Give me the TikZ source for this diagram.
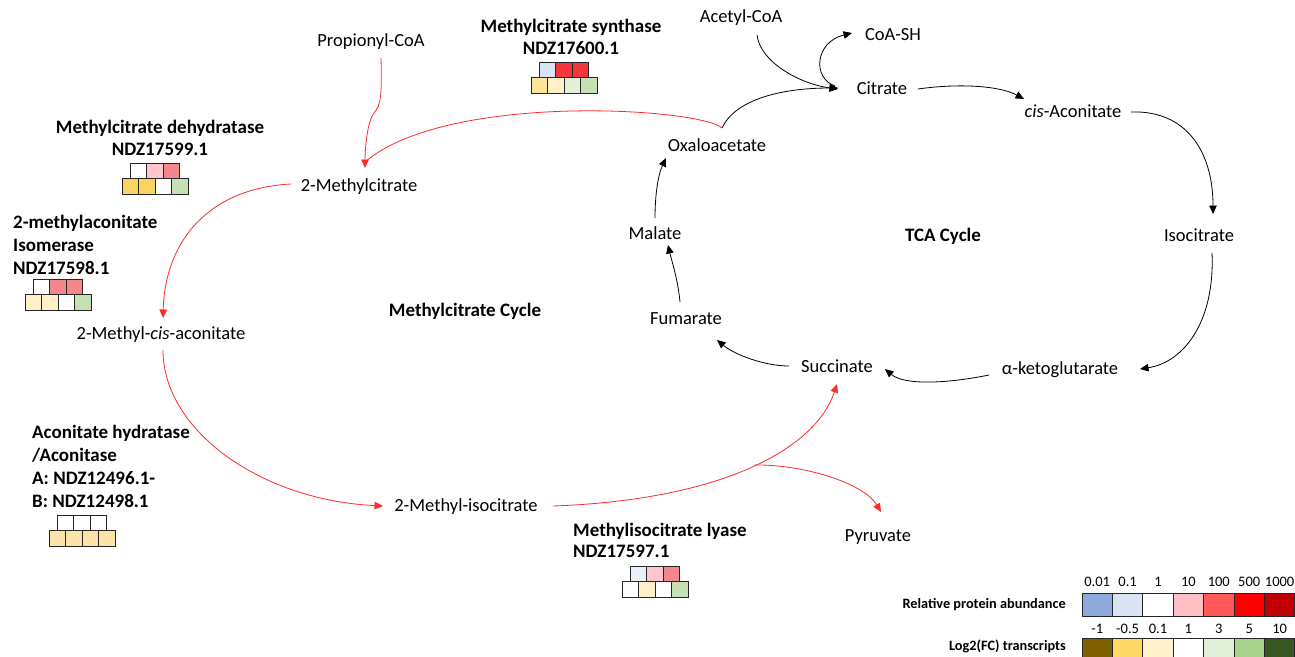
\documentclass[tikz,border=0pt]{standalone}
\usepackage{fontspec}
\setmainfont{Carlito}
\usetikzlibrary{arrows.meta,calc}
\definecolor{lred}{HTML}{FF2A2A}
\definecolor{pkA}{HTML}{FFC7CC}
\definecolor{pkB}{HTML}{F4878B}
\definecolor{rdA}{HTML}{F2373C}
\definecolor{lbA}{HTML}{DAE3F3}
\definecolor{lbB}{HTML}{EAF0F8}
\definecolor{goA}{HTML}{FAD462}
\definecolor{goB}{HTML}{FFE599}
\definecolor{crA}{HTML}{FFF0C8}
\definecolor{crB}{HTML}{FBE3AA}
\definecolor{grA}{HTML}{C5E0B4}
\definecolor{grB}{HTML}{E2F0D9}
\definecolor{pa}{HTML}{8FAADC}
\definecolor{pb}{HTML}{DAE3F3}
\definecolor{pc}{HTML}{FFFFFF}
\definecolor{pd}{HTML}{FFBFC4}
\definecolor{pe}{HTML}{FF5959}
\definecolor{pf}{HTML}{FF0000}
\definecolor{pg}{HTML}{C00000}
\definecolor{ta}{HTML}{7F6000}
\definecolor{tb}{HTML}{FFD966}
\definecolor{tc}{HTML}{FFF2CC}
\definecolor{td}{HTML}{FFFFFF}
\definecolor{te}{HTML}{E2F0D9}
\definecolor{tf}{HTML}{A9D18E}
\definecolor{tg}{HTML}{375623}
\newcommand\hmap[9]{%
 \begin{scope}[shift={(#1,#2)}]
 \filldraw[cell,fill=#3] (-24.75,0) rectangle ++(16.5,15.5);
 \filldraw[cell,fill=#4] (-8.25,0) rectangle ++(16.5,15.5);
 \filldraw[cell,fill=#5] (8.25,0) rectangle ++(16.5,15.5);
 \filldraw[cell,fill=#6] (-33,15.5) rectangle ++(16.5,15.5);
 \filldraw[cell,fill=#7] (-16.5,15.5) rectangle ++(16.5,15.5);
 \filldraw[cell,fill=#8] (0,15.5) rectangle ++(16.5,15.5);
 \filldraw[cell,fill=#9] (16.5,15.5) rectangle ++(16.5,15.5);
 \end{scope}}
\begin{document}
\begin{tikzpicture}[x=1pt,y=-1pt,
 lbl/.style={font=\fontsize{18.5}{22}\selectfont, inner sep=0pt, text height=11.8pt, text depth=0pt},
 blbl/.style={font=\fontsize{19}{22}\selectfont\bfseries, inner sep=0pt, text height=12pt, text depth=0pt},
 enz/.style={font=\fontsize{19}{22}\selectfont\bfseries, inner sep=0pt},
 blk/.style={draw=black, line width=0.8pt, -{Triangle[length=8.5pt,width=7.5pt]}},
 rd/.style={draw=lred, line width=0.8pt, -{Triangle[length=8.5pt,width=7.5pt]}},
 rdline/.style={draw=lred, line width=0.8pt},
 cell/.style={draw=black!85, line width=1pt},
 lgbox/.style={draw=black!85, line width=1pt},
 lgnum/.style={font=\fontsize{14.5}{16}\selectfont, inner sep=0pt},
 lgtxt/.style={font=\fontsize{14.3}{16}\selectfont\bfseries, inner sep=0pt, anchor=east}]
\useasboundingbox (0,0) rectangle (1295,656);
\fill[white] (0,0) rectangle (1295,656);

% metabolites
\node[lbl] (pcoa) at (371,41) {Propionyl-CoA};
\node[lbl] (acoa) at (741,17) {Acetyl-CoA};
\node[lbl] (coash) at (893,35) {CoA-SH};
\node[lbl] (cit) at (882,89) {Citrate};
\node[lbl] (cisa) at (1073,112) {\textit{cis}-Aconitate};
\node[lbl] (oaa) at (717,146) {Oxaloacetate};
\node[lbl] (mcit) at (359,186) {2-Methylcitrate};
\node[lbl] (mal) at (655,234) {Malate};
\node[lbl] (iso) at (1199,236) {Isocitrate};
\node[lbl] (mca) at (161,334) {2-Methyl-\textit{cis}-aconitate};
\node[lbl] (fum) at (686,319) {Fumarate};
\node[lbl] (suc) at (837,367) {Succinate};
\node[lbl] (akg) at (1060,369) {α-ketoglutarate};
\node[lbl] (mic) at (466,506) {2-Methyl-isocitrate};
\node[lbl] (pyr) at (878,536) {Pyruvate};

\node[blbl] (tca) at (943,235) {TCA Cycle};
\node[blbl] (mcc) at (465,310) {Methylcitrate Cycle};

% enzymes (anchor = baseline of last line)
\node[enz, anchor=base, align=center] (mcs) at (571,54) {Methylcitrate synthase\\NDZ17600.1};
\node[enz, anchor=base, align=center] (mcd) at (160,155) {Methylcitrate dehydratase\\NDZ17599.1};
\node[enz, anchor=base west, align=left, font=\fontsize{19}{23}\selectfont\bfseries] (mai) at (13,274) {2-methylaconitate\\Isomerase\\NDZ17598.1};
\node[enz, anchor=base west, align=left, font=\fontsize{19}{23}\selectfont\bfseries] (ah) at (32,507) {Aconitate hydratase\\/Aconitase\\A: NDZ12496.1-\\B: NDZ12498.1};
\node[enz, anchor=base west, align=left, font=\fontsize{19}{21}\selectfont\bfseries] (mil) at (573,557) {Methylisocitrate lyase\\NDZ17597.1};

% heat maps
\hmap{564}{62}{lbA}{rdA}{rdA}{goB}{crA}{grB}{grA}
\hmap{155}{163}{white}{pkA}{pkB}{goA}{goA}{white}{grA}
\hmap{58}{279}{white}{pkB}{pkB}{crA}{crA}{white}{grA}
\hmap{82}{515}{white}{white}{white}{crB}{crB}{crB}{crB}
\hmap{655}{566}{lbB}{pkA}{pkB}{white}{crA}{white}{grA}

% TCA connectors
\draw[blk] ($(acoa)+(16,18)$) .. controls (760,62) and (800,84) .. ($(cit)+(-44,0)$);
\draw[blk] ($(cit)+(-47,-3)$) .. controls (812,78) and (815,42) .. ($(coash)+(-41,-2)$);
\draw[blk] ($(oaa)+(5,-18)$) .. controls (735,100) and (780,88) .. ($(cit)+(-44,-1)$);
\draw[blk] ($(cit)+(36,0)$) .. controls (960,83) and (1000,86) .. ($(cisa)+(-49,-13)$);
\draw[blk] ($(cisa)+(58,0)$) .. controls (1185,110) and (1213,150) .. ($(iso)+(14,-22)$);
\draw[blk] ($(iso)+(13,17)$) .. controls (1215,320) and (1185,362) .. ($(akg)+(80,0)$);
\draw[blk] ($(akg)+(-71,6)$) .. controls (950,383) and (905,386) .. ($(suc)+(48,2)$);
\draw[blk] ($(suc)+(-48,-1)$) .. controls (765,366) and (735,355) .. ($(fum)+(31,21)$);
\draw[blk] ($(fum)+(-6,-17)$) .. controls (678,280) and (672,262) .. ($(mal)+(13,11)$);
\draw[blk] ($(mal)+(0,-16)$) .. controls (655,195) and (658,175) .. ($(oaa)+(-51,12)$);

% methylcitrate cycle connectors
\draw[rd] ($(pcoa)+(10,17)$) .. controls (382,95) and (381,105) .. ($(pcoa)+(3,72)$) .. controls (367,122) and (365,150) .. ($(mcit)+(6,-18)$);
\draw[rdline] ($(oaa)+(5,-18)$) .. controls (700,108) and (450,92) .. ($(mcit)+(7,-25)$);
\draw[rd] ($(mcit)+(-68,-2)$) .. controls (210,188) and (165,240) .. ($(mca)+(2,-16)$);
\draw[rd] ($(mca)+(2,16)$) .. controls (163,430) and (260,500) .. ($(mic)+(-83,0)$);
\draw[rd] ($(mic)+(87,0)$) .. controls (720,500) and (815,450) .. coordinate[pos=0.52] (br) ($(suc)+(0,17)$);
\draw[rd] (br) .. controls (810,465) and (865,485) .. ($(pyr)+(3,-24)$);

% legend
\foreach \c [count=\i from 0] in {pa,pb,pc,pd,pe,pf,pg}
  \filldraw[lgbox, fill=\c] (1082+30.4*\i,593) rectangle ++(30.4,23);
\foreach \c [count=\i from 0] in {ta,tb,tc,td,te,tf,tg}
  \filldraw[lgbox, fill=\c] (1082+30.4*\i,638) rectangle ++(30.4,23);
\foreach \t [count=\i from 0] in {0.01,0.1,1,10,100,500,1000}
  \node[lgnum] (pl\i) at (1097.2+30.4*\i,582) {\t};
\foreach \t [count=\i from 0] in {-1,-0.5,0.1,1,3,5,10}
  \node[lgnum] (tl\i) at (1097.2+30.4*\i,629) {\t};
\node[lgtxt] (lgp) at (1066,605) {Relative protein abundance};
\node[lgtxt] (lgt) at (1066,646) {Log2(FC) transcripts};
\end{tikzpicture}
\end{document}
